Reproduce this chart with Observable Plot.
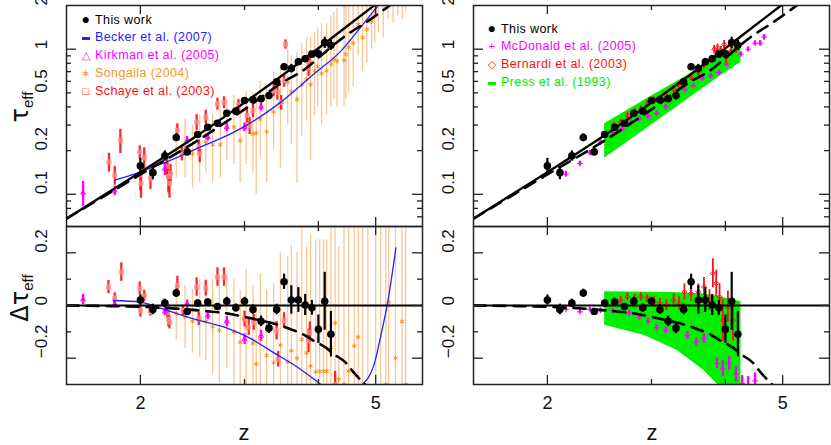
<!DOCTYPE html>
<html><head><meta charset="utf-8">
<script src="https://cdn.jsdelivr.net/npm/d3@7"></script>
<script src="https://cdn.jsdelivr.net/npm/@observablehq/plot@0.6"></script>
<style>
body{margin:0;background:#fff;}
#chart{position:relative;width:831px;height:445px;font-family:"Liberation Sans",Arial,sans-serif;overflow:hidden;background:#fff;}
#chart svg{position:absolute;left:0;top:0;}
.lab{position:absolute;white-space:nowrap;color:#111;}
.leg{position:absolute;font-size:12.5px;line-height:16px;white-space:nowrap;letter-spacing:0.4px;}
.sym{display:inline-block;width:14px;text-align:center;margin-right:2px;}
</style></head><body><div id="chart"></div>
<script>
// ---------------- data ----------------
// This work (Faucher-Giguere et al.)
const workZ = [2.0,2.1,2.2,2.3,2.4,2.5,2.6,2.7,2.8,2.9,3.0,3.1,3.2,3.3,3.4,3.5,3.6,3.7,3.8,3.9,4.0,4.1,4.2];
const workTau = [0.157,0.141,0.184,0.246,0.196,0.258,0.290,0.309,0.362,0.374,0.443,0.449,0.455,0.479,0.597,0.757,0.736,0.82,0.86,0.924,0.93,1.11,1.065];
const workTauErr = [0.02,0.015,0.015,0.015,0.01,0.01,0.012,0.012,0.012,0.012,0.015,0.015,0.02,0.02,0.02,0.03,0.05,0.045,0.04,0.03,0.055,0.1,0.085];
const workDelta = [0.021,-0.015,0.009,0.047,-0.023,0.009,0.013,-0.004,0.016,-0.009,0.016,-0.015,-0.06,-0.086,-0.015,0.09,0.021,0.021,0.002,-0.009,-0.09,0.016,-0.109];
const workDeltaErr = [0.019,0.02,0.015,0.015,0.012,0.012,0.012,0.012,0.015,0.015,0.015,0.018,0.02,0.02,0.02,0.029,0.054,0.047,0.04,0.028,0.054,0.11,0.086];

// fit (solid) and dashed curves
const solidZ = [1.5,1.75,2.0,2.5,3.0,3.5,4.0,4.5,5.0];
const solidTau = [0.068,0.101,0.142,0.255,0.428,0.675,1.015,1.467,2.04];
const dashZ = [1.5,2.0,2.5,3.0,3.5,3.8,4.0,4.4,4.85,5.2,5.3];
const dashTau = [0.068,0.137,0.235,0.385,0.60,0.73,0.87,1.2,1.56,1.91,2.02];
const dashDZ = [1.5,1.75,2.0,2.3,2.6,2.8,2.97,3.11,3.30,3.45,3.59,3.76,3.93,4.12,4.25,4.45,4.57,4.75,4.8];
const dashDelta = [0,-0.002,-0.005,-0.012,-0.022,-0.03,-0.041,-0.051,-0.064,-0.076,-0.09,-0.108,-0.134,-0.16,-0.185,-0.217,-0.249,-0.29,-0.30];

// Becker et al. (2007)
const beckerZ = [1.81,2.0,2.22,2.53,2.88,3.28,3.45,3.93,4.37,4.71,5.04];
const beckerTau = [0.125,0.143,0.168,0.212,0.268,0.37,0.43,0.674,0.974,1.406,1.98];
const beckerDZ1 = [1.80,2.0,2.16,2.46,2.81,3.07,3.36,3.73,4.04];
const beckerD1 = [0.019,0.013,-0.01,-0.051,-0.087,-0.125,-0.179,-0.242,-0.30];
const beckerDZ2 = [4.74,4.98,5.10,5.23,5.41];
const beckerD2 = [-0.30,-0.216,-0.115,0.002,0.219];

// Kirkman et al. (2005)
const kirkZ = [1.6,1.81,2.2,2.4,2.6,2.8,3.0,3.2];
const kirkTau = [0.1026,0.106,0.15,0.235,0.248,0.29,0.29,0.40];
const kirkTauErr = [0.02,0.008,0.015,0.015,0.015,0.02,0.02,0.025];
const kirkDelta = [0.023,0.006,-0.023,0.006,-0.038,-0.061,-0.128,-0.115];
const kirkDeltaErr = [0.02,0.01,0.015,0.015,0.015,0.02,0.02,0.02];

// Songaila (2004)
const songZ = [2.30,2.38,2.45,2.52,2.58,2.65,2.73,2.80,2.88,2.95,3.02,3.10,3.14,3.19,3.27,3.36,3.45,3.55,3.60,3.68,3.75,3.82,3.88,3.94,3.99,4.05,4.13,4.20,4.25,4.30,4.42,4.45,4.50,4.58,4.67,4.75,4.83,4.92,4.98,5.05,5.15,5.25,5.35,5.45,5.55,5.62];
const songTau = [0.20,0.21,0.19,0.20,0.23,0.22,0.22,0.29,0.29,0.235,0.30,0.26,0.264,0.33,0.27,0.37,0.40,0.59,0.51,0.45,0.57,0.62,0.57,0.71,0.76,0.68,0.71,0.79,0.85,0.83,0.84,0.92,1.03,1.10,1.48,1.20,1.37,1.55,1.69,2.1,2.3,2.5,2.6,2.8,2.9,3.0];
const songLo = [0.13,0.13,0.11,0.12,0.14,0.12,0.13,0.17,0.16,0.12,0.16,0.14,0.10,0.18,0.12,0.20,0.15,0.30,0.22,0.12,0.25,0.32,0.17,0.35,0.40,0.30,0.35,0.40,0.45,0.40,0.40,0.45,0.50,0.55,0.90,0.70,0.80,1.00,1.10,1.30,1.20,1.60,1.50,1.70,1.60,1.80];
const songHi = [0.30,0.33,0.30,0.35,0.37,0.36,0.40,0.45,0.48,0.42,0.52,0.50,0.50,0.60,0.55,0.70,0.75,1.00,0.90,0.95,1.10,1.20,1.20,1.30,1.40,1.50,1.50,1.70,1.80,1.90,2.2,2.2,2.3,2.5,2.5,2.5,2.5,2.5,2.5,3,3,3,3,3,3,3.5];
const songDZ = [2.30,2.38,2.45,2.52,2.58,2.65,2.72,2.80,2.88,2.95,3.02,3.10,3.14,3.19,3.27,3.36,3.45,3.55,3.60,3.68,3.75,3.82,3.88,3.96,4.02,4.08,4.13,4.20,4.27,4.33,4.42,4.50,4.60,4.67,4.75,4.85,5.00,5.10,5.20,5.26,5.40,5.54,5.62];
const songDelta = [-0.03,-0.044,-0.06,-0.05,-0.06,-0.08,-0.094,-0.06,-0.10,-0.14,-0.082,-0.143,-0.222,-0.13,-0.19,-0.217,-0.15,-0.214,-0.172,-0.20,-0.129,-0.18,-0.23,-0.252,-0.25,-0.25,-0.25,-0.16,-0.067,-0.28,-0.30,-0.25,-0.153,-0.12,-0.35,-0.40,-0.50,-0.40,-0.30,0.013,-0.20,-0.061,-0.30];
const songDeltaErr = [0.10,0.12,0.12,0.15,0.15,0.18,0.2,0.18,0.2,0.2,0.22,0.22,0.22,0.25,0.25,0.3,0.35,0.4,0.4,0.4,0.45,0.4,0.5,0.5,0.5,0.5,0.5,0.5,0.6,0.5,0.6,0.6,0.7,0.8,0.8,0.9,1,1,1,1,1,1,1];

// Schaye et al. (2003)
const schZ = [1.77,1.81,1.85,1.995,2.0,2.005,2.03,2.08,2.22,2.23,2.24,2.25,2.31,2.35,2.49,2.51,2.52,2.58,2.70,2.77,2.93,3.03,3.06,3.10,3.36,3.41,3.46,3.50,3.52,3.85,3.87];
const schTau = [0.167,0.1355,0.2355,0.196,0.136,0.119,0.179,0.128,0.155,0.132,0.119,0.14,0.276,0.19,0.314,0.212,0.19,0.34,0.42,0.43,0.41,0.35,0.298,0.378,0.52,0.505,0.43,0.606,1.08,0.75,0.81];
const schTauErr = [0.025,0.02,0.045,0.02,0.03,0.025,0.03,0.02,0.025,0.03,0.025,0.02,0.03,0.02,0.04,0.025,0.025,0.04,0.04,0.04,0.04,0.04,0.04,0.04,0.05,0.06,0.05,0.06,0.08,0.1,0.08];
const schDZ = [1.766,1.81,1.857,1.995,2.0,2.03,2.08,2.22,2.23,2.24,2.31,2.36,2.49,2.51,2.58,2.70,2.77,3.0,3.05,3.11,3.40,3.42,3.5,3.85,3.87,4.27];
const schDelta = [0.07,0.028,0.127,0.064,-0.019,0.036,-0.023,-0.026,-0.051,-0.064,0.076,-0.019,0.07,-0.051,0.066,0.108,0.108,-0.051,-0.083,-0.064,-0.096,-0.204,-0.057,-0.134,-0.102,-0.30];
const schDeltaErr = [0.025,0.02,0.035,0.025,0.025,0.022,0.017,0.02,0.03,0.025,0.035,0.02,0.035,0.025,0.03,0.035,0.035,0.03,0.03,0.03,0.035,0.03,0.03,0.045,0.04,0.05];

// McDonald et al. (2005)
const mcdZ = [2.15,2.27,2.36,2.46,2.58,2.68,2.77,2.86,2.96,3.06,3.17,3.3,3.42,3.53,3.66,3.78,3.9,4.02,4.25,4.37,4.49,4.58,4.65];
const mcdTau = [0.138,0.163,0.193,0.229,0.268,0.283,0.314,0.331,0.344,0.362,0.40,0.466,0.524,0.56,0.633,0.656,0.69,0.79,0.924,1.0,1.1,1.1,1.21];
const mcdTauErr = [0.006,0.006,0.007,0.008,0.01,0.01,0.01,0.01,0.012,0.012,0.013,0.015,0.016,0.017,0.02,0.02,0.022,0.025,0.03,0.035,0.04,0.045,0.05];
const mcdDZ = [2.15,2.27,2.36,2.46,2.58,2.75,2.86,2.96,3.06,3.17,3.30,3.45,3.57,3.68,3.87,3.96,4.06,4.17,4.27,4.37,4.49];
const mcdDelta = [-0.015,-0.024,-0.015,-0.018,-0.02,-0.028,-0.044,-0.06,-0.084,-0.094,-0.094,-0.114,-0.139,-0.126,-0.22,-0.24,-0.22,-0.26,-0.296,-0.30,-0.286];
const mcdDeltaErr = [0.006,0.006,0.007,0.008,0.008,0.01,0.01,0.01,0.012,0.012,0.013,0.015,0.016,0.017,0.02,0.03,0.025,0.03,0.03,0.03,0.03];

// Bernardi et al. (2003)
const berZ = [2.59,2.66,2.73,2.81,2.88,2.95,3.03,3.10,3.18,3.27,3.34,3.41,3.50,3.60,3.68,3.78,3.83,3.86,3.88,3.93,3.98,4.01,4.09,4.17];
const berTau = [0.298,0.314,0.349,0.368,0.388,0.42,0.4425,0.455,0.479,0.532,0.56,0.59,0.64,0.69,0.79,0.854,1.0,0.924,1.025,0.974,1.08,0.876,0.974,1.03];
const berTauErr = [0.015,0.015,0.02,0.02,0.02,0.02,0.025,0.025,0.025,0.03,0.03,0.03,0.035,0.04,0.05,0.05,0.06,0.06,0.06,0.07,0.07,0.08,0.08,0.09];
const berDZ = [2.59,2.66,2.73,2.81,2.88,2.95,3.03,3.10,3.18,3.27,3.34,3.41,3.50,3.60,3.68,3.76,3.81,3.86,3.91,3.96,4.04,4.12];
const berDelta = [0.014,0.02,0.033,0.027,0.033,0.027,0.014,0.008,0.001,0.02,0.008,0.052,0.046,0.052,0.071,0.02,0.122,0.084,0.033,-0.056,-0.005,-0.056];
const berDeltaErr = [0.015,0.015,0.015,0.015,0.015,0.015,0.02,0.02,0.02,0.025,0.025,0.03,0.03,0.03,0.035,0.04,0.055,0.05,0.05,0.08,0.06,0.08];

// Press et al. (1993) band
const pressZ = [2.5,3.0,3.5,4.0,4.25];
const pressLo = [0.177,0.30,0.47,0.69,0.81];
const pressHi = [0.306,0.476,0.68,0.935,1.08];
const pressDZ = [2.5,2.92,3.32,3.68,3.88,4.25];
const pressDLo = [-0.075,-0.114,-0.171,-0.247,-0.30,-0.40];
const pressDHi = [0.052,0.05,0.048,0.044,0.035,0.014];

// axes
const xMajor = [2,5], xMinor = [3,4];
const xLabels = [2,5];
const topMajor = [0.1,1], topMinor = [0.07,0.08,0.09,0.2,0.3,0.4,0.5,0.6,0.7,0.8,0.9];
const topLabels = [0.1,0.2,0.5,1,2];
const botMajor = [-0.2,0,0.2], botMinor = [-0.1,0.1];
const botLabels = [-0.2,0,0.2];

// ---------------- drawing ----------------
const W = 831, H = 445;
const BLACK = "#000", BLUE = "#2222ff", MAG = "#ff00ff", ORANGE = "#f7941d", ORANGE_BAR = "#f9a860", RED = "#ff1010", GREEN = "#00ee00";
const fmt = d => (d < 0 ? "\u2212" + Math.abs(d) : String(d));

function panel(m, yType, yDomain, yMajor, yMinor, yLabels, withX, marks) {
  const fw = W - m.l - m.r, fh = H - m.t - m.b;
  const tk = {stroke: "#222", strokeWidth: 1.3};
  const all = [
    ...marks,
    Plot.tickX(xMajor, {x: d => d, insetTop: fh - 9, ...tk}),
    Plot.tickX(xMajor, {x: d => d, insetBottom: fh - 9, ...tk}),
    Plot.tickX(xMinor, {x: d => d, insetTop: fh - 5, ...tk}),
    Plot.tickX(xMinor, {x: d => d, insetBottom: fh - 5, ...tk}),
    Plot.tickY(yMajor, {y: d => d, insetRight: fw - 10, ...tk}),
    Plot.tickY(yMajor, {y: d => d, insetLeft: fw - 10, ...tk}),
    Plot.tickY(yMinor, {y: d => d, insetRight: fw - 5, ...tk}),
    Plot.tickY(yMinor, {y: d => d, insetLeft: fw - 5, ...tk}),
    Plot.frame({stroke: "#222", strokeWidth: 1.5}),
    Plot.text(yLabels, {y: d => d, text: fmt, frameAnchor: "left", dx: -25, rotate: -90, fontSize: 17, fill: "#111"})
  ];
  if (withX) all.push(Plot.text(xLabels, {x: d => d, text: fmt, frameAnchor: "bottom", dy: 24, fontSize: 18, fill: "#111"}));
  return Plot.plot({
    width: W, height: H,
    marginLeft: m.l, marginRight: m.r, marginTop: m.t, marginBottom: m.b,
    x: {type: "log", domain: [1.5, 6], axis: null},
    y: {type: yType, domain: yDomain, axis: null},
    style: {background: "transparent", overflow: "visible", fontFamily: "Liberation Sans, Arial, sans-serif"},
    marks: all
  });
}

const c = {clip: true};
const errBars = (zs, v, e, opts) => Plot.ruleX(zs, {x: zs, y1: (d, i) => v[i] - e[i], y2: (d, i) => v[i] + e[i], ...c, ...opts});
const lineOf = (zs, v, opts) => Plot.line(zs, {x: zs, y: v, curve: "monotone-x", ...c, ...opts});
const solidStyle = {stroke: BLACK, strokeWidth: 2.3};
const dashStyle = {stroke: BLACK, strokeWidth: 2.6, strokeDasharray: "12,8"};
const R_WORK = 3.8;

const TL = panel({l: 66, r: 409, t: 5, b: 219}, "log", [0.06, 2], topMajor, topMinor, topLabels, false, [
  Plot.ruleX(songZ, {x: songZ, y1: songLo, y2: songHi, stroke: ORANGE_BAR, strokeOpacity: 0.65, strokeWidth: 1.3, ...c}),
  Plot.dot(songZ, {x: songZ, y: songTau, symbol: "asterisk", r: 2.3, stroke: ORANGE, strokeWidth: 1, ...c}),
  errBars(schZ, schTau, schTauErr, {stroke: RED, strokeWidth: 2.3, strokeOpacity: 0.9}),
  Plot.dot(schZ, {x: schZ, y: schTau, symbol: "square", r: 2.3, fill: "#ff9090", fillOpacity: 0.7, stroke: "#ff9090", strokeWidth: 0.8, ...c}),
  errBars(kirkZ, kirkTau, kirkTauErr, {stroke: MAG, strokeWidth: 2.3}),
  Plot.dot(kirkZ, {x: kirkZ, y: kirkTau, symbol: "triangle2", r: 2.3, stroke: MAG, strokeWidth: 1, ...c}),
  lineOf(beckerZ, beckerTau, {stroke: BLUE, strokeWidth: 1.3}),
  lineOf(dashZ, dashTau, dashStyle),
  lineOf(solidZ, solidTau, solidStyle),
  errBars(workZ, workTau, workTauErr, {stroke: BLACK, strokeWidth: 2.2}),
  Plot.dot(workZ, {x: workZ, y: workTau, r: R_WORK, fill: BLACK, ...c})
]);

const BL = panel({l: 66, r: 409, t: 226, b: 61}, "linear", [-0.3, 0.3], botMajor, botMinor, botLabels, true, [
  errBars(songDZ, songDelta, songDeltaErr, {stroke: ORANGE_BAR, strokeOpacity: 0.65, strokeWidth: 1.3}),
  Plot.dot(songDZ, {x: songDZ, y: songDelta, symbol: "asterisk", r: 2.3, stroke: ORANGE, strokeWidth: 1, ...c}),
  errBars(schDZ, schDelta, schDeltaErr, {stroke: RED, strokeWidth: 2.3, strokeOpacity: 0.9}),
  Plot.dot(schDZ, {x: schDZ, y: schDelta, symbol: "square", r: 2.3, fill: "#ff9090", fillOpacity: 0.7, stroke: "#ff9090", strokeWidth: 0.8, ...c}),
  errBars(kirkZ, kirkDelta, kirkDeltaErr, {stroke: MAG, strokeWidth: 2.3}),
  Plot.dot(kirkZ, {x: kirkZ, y: kirkDelta, symbol: "triangle2", r: 2.3, stroke: MAG, strokeWidth: 1, ...c}),
  lineOf(beckerDZ1, beckerD1, {stroke: BLUE, strokeWidth: 1.3}),
  lineOf(beckerDZ2, beckerD2, {stroke: BLUE, strokeWidth: 1.3}),
  Plot.ruleY([0], {stroke: BLACK, strokeWidth: 2.2}),
  lineOf(dashDZ, dashDelta, dashStyle),
  errBars(workZ, workDelta, workDeltaErr, {stroke: BLACK, strokeWidth: 2.2}),
  Plot.dot(workZ, {x: workZ, y: workDelta, r: R_WORK, fill: BLACK, ...c})
]);

const TR = panel({l: 473, r: 2, t: 5, b: 219}, "log", [0.06, 2], topMajor, topMinor, topLabels, false, [
  Plot.areaY(pressZ, {x: pressZ, y1: pressLo, y2: pressHi, fill: GREEN, ...c}),
  errBars(mcdZ, mcdTau, mcdTauErr, {stroke: MAG, strokeWidth: 2.4}),
  Plot.dot(mcdZ, {x: mcdZ, y: mcdTau, symbol: "plus", r: 2, stroke: MAG, strokeWidth: 1, ...c}),
  errBars(berZ, berTau, berTauErr, {stroke: RED, strokeWidth: 1.8}),
  Plot.dot(berZ, {x: berZ, y: berTau, symbol: "diamond2", r: 2.2, stroke: RED, strokeWidth: 1, ...c}),
  lineOf(dashZ, dashTau, dashStyle),
  lineOf(solidZ, solidTau, solidStyle),
  errBars(workZ, workTau, workTauErr, {stroke: BLACK, strokeWidth: 2.2}),
  Plot.dot(workZ, {x: workZ, y: workTau, r: R_WORK, fill: BLACK, ...c})
]);

const BR = panel({l: 473, r: 2, t: 226, b: 61}, "linear", [-0.3, 0.3], botMajor, botMinor, botLabels, true, [
  Plot.areaY(pressDZ, {x: pressDZ, y1: pressDLo, y2: pressDHi, fill: GREEN, ...c}),
  errBars(mcdDZ, mcdDelta, mcdDeltaErr, {stroke: MAG, strokeWidth: 2.4}),
  Plot.dot(mcdDZ, {x: mcdDZ, y: mcdDelta, symbol: "plus", r: 2, stroke: MAG, strokeWidth: 1, ...c}),
  errBars(berDZ, berDelta, berDeltaErr, {stroke: RED, strokeWidth: 1.8}),
  Plot.dot(berDZ, {x: berDZ, y: berDelta, symbol: "diamond2", r: 2.2, stroke: RED, strokeWidth: 1, ...c}),
  Plot.ruleY([0], {stroke: BLACK, strokeWidth: 2.2}),
  lineOf(dashDZ, dashDelta, dashStyle),
  errBars(workZ, workDelta, workDeltaErr, {stroke: BLACK, strokeWidth: 2.2}),
  Plot.dot(workZ, {x: workZ, y: workDelta, r: R_WORK, fill: BLACK, ...c})
]);

const chart = document.getElementById("chart");
[TL, BL, TR, BR].forEach(p => chart.appendChild(p));

// ---------------- text: axis titles & legends ----------------
function addLabel(html, x, y, size, rotate) {
  const d = document.createElement("div");
  d.className = "lab";
  d.innerHTML = html;
  d.style.left = x + "px"; d.style.top = y + "px";
  d.style.fontSize = size + "px";
  d.style.transform = "translate(-50%,-50%)" + (rotate ? " rotate(-90deg)" : "");
  chart.appendChild(d);
}
addLabel('<span style="font-family:DejaVu Sans">τ</span><sub style="font-size:15px">eff</sub>', 21, 107, 24, true);
addLabel('<span style="font-family:DejaVu Sans">Δτ</span><sub style="font-size:15px">eff</sub>', 21, 298, 24, true);
addLabel('z', 244, 433, 22, false);
addLabel('z', 652, 433, 22, false);

const dash = col => `<span style="display:inline-block;width:8px;height:3px;background:${col};vertical-align:middle"></span>`;
const legendLeft = [
  {sym: "●", col: BLACK, text: "This work"},
  {sym: dash(BLUE), col: BLUE, text: "Becker et al. (2007)"},
  {sym: "△", col: MAG, text: "Kirkman et al. (2005)"},
  {sym: "∗", col: ORANGE, text: "Songaila (2004)"},
  {sym: "□", col: RED, text: "Schaye et al. (2003)"}
];
const legendRight = [
  {sym: "●", col: BLACK, text: "This work"},
  {sym: "+", col: MAG, text: "McDonald et al. (2005)"},
  {sym: "◇", col: RED, text: "Bernardi et al. (2003)"},
  {sym: dash(GREEN), col: GREEN, text: "Press et al. (1993)"}
];
function addLegend(items, x, y0, dy) {
  items.forEach((it, i) => {
    const d = document.createElement("div");
    d.className = "leg";
    d.style.left = (x - 8) + "px";
    d.style.top = (y0 + i * dy - 8) + "px";
    d.style.color = it.col;
    const fs = it.sym === "●" ? 14 : 11;
    d.innerHTML = `<span class="sym" style="font-size:${fs}px">${it.sym}</span>${it.text}`;
    chart.appendChild(d);
  });
}
addLegend(legendLeft, 87, 19, 18);
addLegend(legendRight, 493, 28, 18);
</script>
</body></html>
